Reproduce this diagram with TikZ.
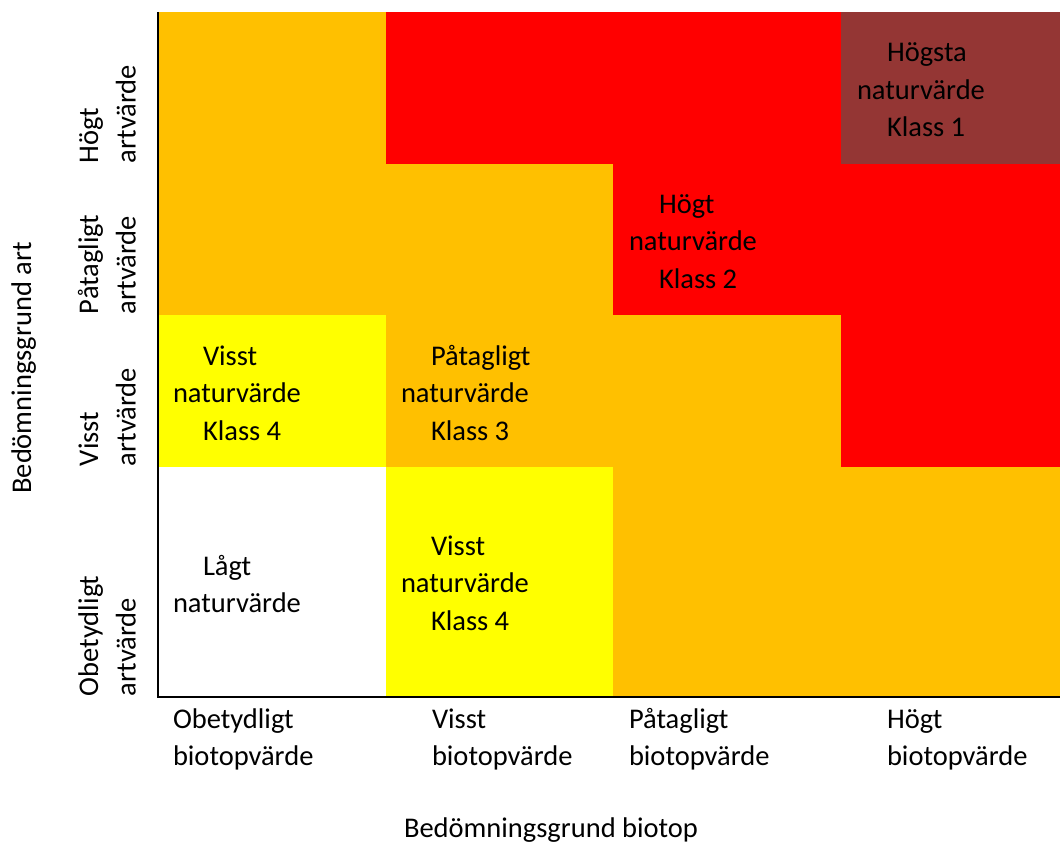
\documentclass[tikz,border=0pt]{standalone}
\usepackage{fontspec}
\setmainfont{Carlito}
\definecolor{cOrange}{HTML}{FFC000}
\definecolor{cRed}{HTML}{FF0000}
\definecolor{cDark}{HTML}{943634}
\definecolor{cYellow}{HTML}{FFFF00}
\newcommand{\cellblock}[1]{\begin{tabular}[t]{@{}l@{}}#1\end{tabular}}
\newcommand{\ind}{\hspace*{30pt}}
\begin{document}
\begin{tikzpicture}[x=1pt,y=-1pt,
  lbl/.style={inner sep=0pt,outer sep=0pt,anchor=base west,
    font=\fontsize{28.5}{37.5}\selectfont},
  rlbl/.style={lbl,rotate=90},
  axisline/.style={line width=2.2pt,line cap=butt}]
\useasboundingbox (0,0) rectangle (1060,843);
% cells: columns 158,386,613,841,1060 ; rows 12,163.5,315,466.5,697
% row 1
\fill[cOrange] (158,12) rectangle (386,163.5);
\fill[cRed]    (386,12) rectangle (841,163.5);
\fill[cDark]   (841,12) rectangle (1060,163.5);
% row 2
\fill[cOrange] (158,163.5) rectangle (613,315);
\fill[cRed]    (613,163.5) rectangle (1060,315);
% row 3
\fill[cYellow] (158,315) rectangle (386,466.5);
\fill[cOrange] (386,315) rectangle (841,466.5);
\fill[cRed]    (841,315) rectangle (1060,466.5);
% row 4
\fill[white]   (158,466.5) rectangle (386,697);
\fill[cYellow] (386,466.5) rectangle (613,697);
\fill[cOrange] (613,466.5) rectangle (1060,697);
% axes
\coordinate (top) at (158,12);
\coordinate (origin) at (158,697);
\coordinate (right) at (1060,697);
\draw[axisline] (top) -- (origin) -- (right);
% cell labels
\node[lbl] (k1) at (857,62) {\cellblock{\ind Högsta\\naturvärde\\\ind Klass 1}};
\node[lbl] (k2) at (629,213) {\cellblock{\ind Högt\\naturvärde\\\ind Klass 2}};
\node[lbl] (k4a) at (173,365) {\cellblock{\ind Visst\\naturvärde\\\ind Klass 4}};
\node[lbl] (k3) at (401,365) {\cellblock{\ind Påtagligt\\naturvärde\\\ind Klass 3}};
\node[lbl] (low) at (173,575) {\cellblock{\ind Lågt\\naturvärde}};
\node[lbl] (k4b) at (401,555) {\cellblock{\ind Visst\\naturvärde\\\ind Klass 4}};
% bottom axis labels
\node[lbl] (b1) at (173,728) {\cellblock{Obetydligt\\biotopvärde}};
\node[lbl] (b2) at (432,728) {\cellblock{Visst\\biotopvärde}};
\node[lbl] (b3) at (629,728) {\cellblock{Påtagligt\\biotopvärde}};
\node[lbl] (b4) at (887,728) {\cellblock{Högt\\biotopvärde}};
\node[lbl] (bt) at (404,837) {Bedömningsgrund biotop};
% left axis labels
\node[rlbl] (a1) at (98,163) {\cellblock{Högt\\artvärde}};
\node[rlbl] (a2) at (98,314) {\cellblock{Påtagligt\\artvärde}};
\node[rlbl] (a3) at (98,466) {\cellblock{Visst\\artvärde}};
\node[rlbl] (a4) at (98,696) {\cellblock{Obetydligt\\artvärde}};
\node[rlbl,anchor=base] (at) at (31,368) {Bedömningsgrund art};
\end{tikzpicture}
\end{document}
